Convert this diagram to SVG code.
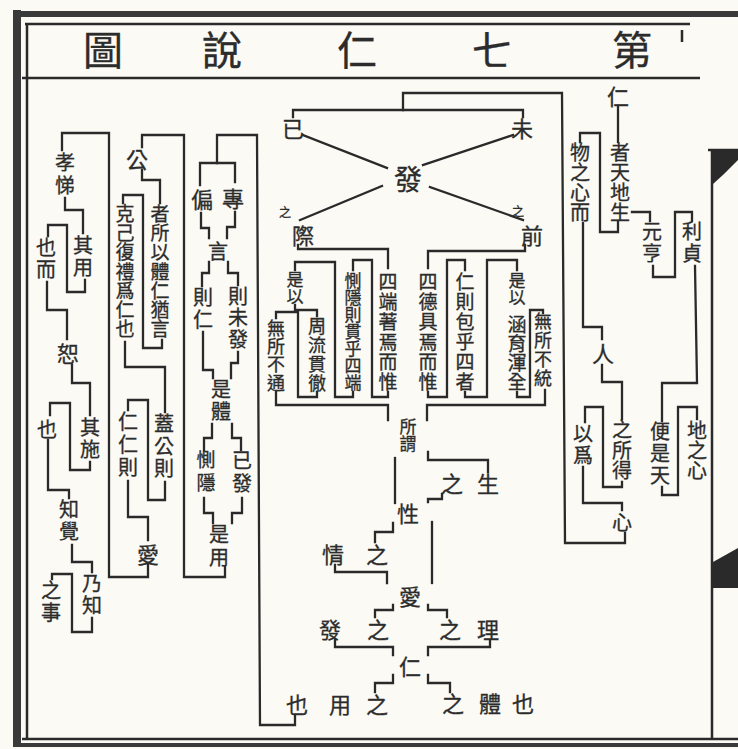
<svg xmlns="http://www.w3.org/2000/svg" width="738" height="749" viewBox="0 0 738 749">
<style>
.ln{fill:none;stroke:#2a2a2a;stroke-width:2.3;stroke-linecap:square;stroke-linejoin:miter}
.fr{fill:none;stroke:#2a2a2a;stroke-width:2.5}
.t{font-family:"Noto Sans CJK TC","Noto Sans CJK SC",sans-serif;fill:#2c2c2c;stroke:#2c2c2c;stroke-width:0.3;text-anchor:middle;dominant-baseline:central}
.v{writing-mode:vertical-rl}
.s22{font-size:22px}.s20{font-size:20px}.s19{font-size:19px}.s18{font-size:18px}.s17{font-size:17px}.s12{font-size:12px}
.ttl{font-size:40px}
</style>
<rect width="738" height="749" fill="#fbfaf4"/>
<g id="frame">
<rect x="13" y="10" width="8" height="737" fill="#3a3a3a"/>
<rect x="13" y="11" width="725" height="6" fill="#3a3a3a"/>
<line class="fr" x1="25" y1="24" x2="690" y2="24"/>
<line class="fr" x1="27" y1="24" x2="27" y2="739"/>
<line class="fr" x1="22" y1="78" x2="700" y2="78"/>
<line class="fr" x1="22" y1="739" x2="738" y2="739"/>
<rect x="13" y="743" width="725" height="4" fill="#3a3a3a"/>
<line class="fr" x1="682" y1="30" x2="682" y2="42"/>
<line class="fr" x1="712" y1="150" x2="712" y2="739"/>
<line class="fr" x1="708" y1="150" x2="738" y2="150"/>
<polygon points="713,150 738,150 738,160 724,174 713,184" fill="#2a2a2a"/>
<polygon points="713,562 738,548 738,588 713,588" fill="#2a2a2a"/>
</g>
<g id="title" class="t ttl">
<text x="103" y="48">圖</text>
<text x="222" y="48">說</text>
<text x="357" y="48">仁</text>
<text x="492" y="48">七</text>
<text x="632" y="48">第</text>
</g>
<g id="connectors">
<path class="ln" d="M148,565 V577 H109 V133 H62 V150"/>
<path class="ln" d="M65,198 V210 H83 V233"/>
<path class="ln" d="M85,280 V292 H67 V225 H48 V236"/>
<path class="ln" d="M47,282 V310 H67 V339"/>
<path class="ln" d="M72,365 V383 H90 V415"/>
<path class="ln" d="M90,462 V470 H70 V403 H50 V415"/>
<path class="ln" d="M48,440 V490 H69 V498"/>
<path class="ln" d="M72,545 V562 H92 V572"/>
<path class="ln" d="M92,618 V632 H72 V574 H52 V579"/>
<path class="ln" d="M225,567 V577 H184 V135 H142 V147"/>
<path class="ln" d="M142,170 V180 H160 V203"/>
<path class="ln" d="M162,340 V348 H143 V195 H123 V203"/>
<path class="ln" d="M125,342 V367 H165 V412"/>
<path class="ln" d="M165,482 V500 H148 V400 H128 V410"/>
<path class="ln" d="M128,481 V517 H148 V540"/>
<path class="ln" d="M295,715 V725 H260 L257,135 H217 V163"/>
<path class="ln" d="M200,185 V163 H235 V182"/>
<path class="ln" d="M235,212 V227 H227 V238"/>
<path class="ln" d="M201,213 V228 H209 V238"/>
<path class="ln" d="M228,262 V273 H238 V285"/>
<path class="ln" d="M209,262 V273 H202 V286"/>
<path class="ln" d="M238,352 V363 H231 V378"/>
<path class="ln" d="M203,332 V370 H213 V378"/>
<path class="ln" d="M232,424 V438 H241 V450"/>
<path class="ln" d="M212,424 V438 H204 V450"/>
<path class="ln" d="M242,498 V513 H232 V523"/>
<path class="ln" d="M204,498 V513 H213 V523"/>
<path class="ln" d="M625,533 V543 H565 L562,93 H403 V110"/>
<path class="ln" d="M293,117 V110 H523 V117"/>
<path class="ln" d="M303,135 L387,168"/>
<path class="ln" d="M513,135 L423,165"/>
<path class="ln" d="M382,186 L300,220"/>
<path class="ln" d="M430,187 L523,220"/>
<path class="ln" d="M298,245 V249 H388 V268"/>
<path class="ln" d="M525,245 V251 H428 V268"/>
<path class="ln" d="M388,392 V397 H372 V260 H353 V270"/>
<path class="ln" d="M353,392 V397 H335 V262 H295 V270"/>
<path class="ln" d="M295,305 V310 H317 V316"/>
<path class="ln" d="M317,392 V397 H298 V312 H276 V318"/>
<path class="ln" d="M276,392 V405 H388 V420"/>
<path class="ln" d="M428,392 V397 H447 V260 H465 V270"/>
<path class="ln" d="M465,392 V397 H487 V260 H517 V270"/>
<path class="ln" d="M517,392 V397 H530 V310 H543 V313"/>
<path class="ln" d="M545,390 V405 H427 V420"/>
<path class="ln" d="M428,452 V460 H488 V472"/>
<path class="ln" d="M442,494 V499 H428 V502"/>
<path class="ln" d="M395,458 V503"/>
<path class="ln" d="M393,523 V532 H375 V542"/>
<path class="ln" d="M335,565 V572 H387 V583"/>
<path class="ln" d="M432,522 V583"/>
<path class="ln" d="M393,605 V610 H375 V617"/>
<path class="ln" d="M428,605 V610 H447 V617"/>
<path class="ln" d="M335,640 V647 H393 V655"/>
<path class="ln" d="M490,640 V647 H428 V655"/>
<path class="ln" d="M393,675 V683 H375 V692"/>
<path class="ln" d="M428,675 V683 H450 V692"/>
<path class="ln" d="M618,107 V142"/>
<path class="ln" d="M618,222 V232 H600 V133 H580 V142"/>
<path class="ln" d="M632,212 H650 V221"/>
<path class="ln" d="M653,266 V277 H675 V212 H692 V221"/>
<path class="ln" d="M695,266 L697,383 H662 V421"/>
<path class="ln" d="M662,487 V495 H678 V407 H697 V419"/>
<path class="ln" d="M583,223 V327 H602 V339"/>
<path class="ln" d="M602,365 V382 H622 V419"/>
<path class="ln" d="M622,482 V487 H603 V407 H585 V422"/>
<path class="ln" d="M583,467 V503 H622 V510"/>
</g>
<g id="n-right" class="t s20">
<text class="s22" x="618" y="95">仁</text>
<text class="v" x="620" y="182.5">者天地生</text>
<text class="v" x="580" y="182.5">物之心而</text>
<text class="v" x="652" y="243" style="letter-spacing:2px">元亨</text>
<text class="v" x="692" y="243" style="letter-spacing:2px">利貞</text>
<text class="s22" x="603" y="352">人</text>
<text class="v" x="622" y="450.5" style="letter-spacing:0.5px">之所得</text>
<text class="v" x="583" y="445" style="letter-spacing:2px">以爲</text>
<text class="v" x="660" y="454" style="letter-spacing:2px">便是天</text>
<text class="v" x="697" y="450">地之心</text>
<text x="622" y="521">心</text>
</g>
<g id="n-center-top" class="t s22">
<text x="293" y="127">已</text>
<text x="522" y="127">未</text>
<text x="408" y="178" style="font-size:28px">發</text>
<text class="s12" x="285" y="211">之</text>
<text x="303" y="234">際</text>
<text class="s12" x="518" y="210">之</text>
<text x="532" y="234">前</text>
</g>
<g id="n-center-left" class="t s19">
<text class="v" x="388" y="332" style="letter-spacing:1px">四端著焉而惟</text>
<text class="v s17" x="353" y="332">惻隱則貫乎四端</text>
<text class="v s17" x="295" y="288.5">是以</text>
<text class="v s18" x="317" y="355" style="letter-spacing:0.7px">周流貫徹</text>
<text class="v s18" x="276" y="355.5" style="letter-spacing:0.3px">無所不通</text>
</g>
<g id="n-center-right" class="t s19">
<text class="v" x="428" y="332" style="letter-spacing:1px">四德具焉而惟</text>
<text class="v" x="465" y="332" style="letter-spacing:1px">仁則包乎四者</text>
<text class="v s17" x="517" y="289">是以</text>
<text class="v" x="517" y="353.5">涵育渾全</text>
<text class="v s18" x="543" y="350.5" style="letter-spacing:1px">無所不統</text>
</g>
<g id="n-center-bottom" class="t s22">
<text class="v s17" x="408" y="435.5">所謂</text>
<text x="488" y="482">生</text>
<text x="452" y="482">之</text>
<text x="408" y="512">性</text>
<text x="377" y="553">之</text>
<text x="333" y="553">情</text>
<text x="410" y="595">愛</text>
<text x="378" y="628">之</text>
<text x="330" y="628">發</text>
<text x="450" y="628">之</text>
<text x="488" y="628">理</text>
<text x="410" y="665">仁</text>
<text x="377" y="703">之</text>
<text x="340" y="703">用</text>
<text x="297" y="703">也</text>
<text x="453" y="702">之</text>
<text x="490" y="702">體</text>
<text x="523" y="702">也</text>
</g>
<g id="n-colC" class="t s20">
<text class="s22" x="233" y="197">專</text>
<text class="s22" x="202" y="198">偏</text>
<text x="218" y="250">言</text>
<text class="v" x="238" y="318.5" style="letter-spacing:1.5px">則未發</text>
<text class="v" x="203" y="309" style="letter-spacing:2px">則仁</text>
<text class="v" x="221" y="401" style="letter-spacing:2px">是體</text>
<text class="v" x="242" y="473.5" style="letter-spacing:3px">已發</text>
<text class="v s19" x="206" y="473.5" style="letter-spacing:4px">惻隱</text>
<text class="v" x="219" y="547.5" style="letter-spacing:3px">是用</text>
</g>
<g id="n-colB" class="t s19">
<text class="s22" x="137" y="158">公</text>
<text class="v" x="160" y="271.5" style="letter-spacing:0.2px">者所以體仁猶言</text>
<text class="v" x="125" y="271.5" style="letter-spacing:0.2px">克己復禮爲仁也</text>
<text class="v s20" x="164" y="447.5" style="letter-spacing:2.5px">蓋公則</text>
<text class="v s20" x="128" y="446" style="letter-spacing:3px">仁仁則</text>
<text class="s22" x="148" y="553">愛</text>
</g>
<g id="n-colA" class="t s20">
<text class="v" x="65" y="175.5" style="letter-spacing:3px">孝悌</text>
<text class="v" x="83" y="257" style="letter-spacing:2px">其用</text>
<text class="v" x="46" y="259" style="letter-spacing:2px">也而</text>
<text class="s22" x="68" y="352">恕</text>
<text class="v" x="90" y="439" style="letter-spacing:2px">其施</text>
<text x="47" y="428">也</text>
<text class="v" x="69" y="521" style="letter-spacing:2px">知覺</text>
<text class="v" x="92" y="595" style="letter-spacing:2px">乃知</text>
<text class="v" x="51" y="602" style="letter-spacing:2px">之事</text>
</g>
</svg>
